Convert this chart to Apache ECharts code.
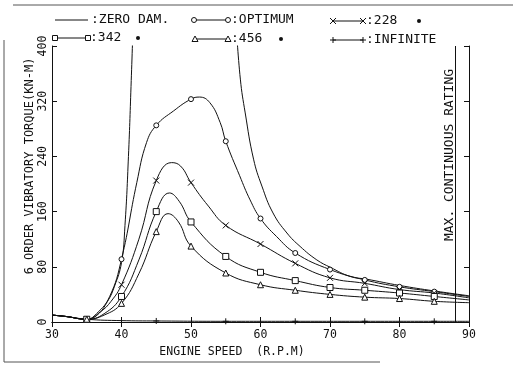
<!DOCTYPE html>
<html>
<head>
<meta charset="utf-8">
<script src="https://cdn.jsdelivr.net/npm/echarts@6/dist/echarts.min.js"></script>
<style>
html,body{margin:0;padding:0;background:#fff;}
#chart{width:513px;height:370px;}
</style>
</head>
<body>
<div id="chart"></div>
<script>
// ---------- data ----------
var xTicks = [30, 40, 50, 60, 70, 80, 90];
var yTicks = [0, 80, 160, 240, 320, 400];
var mcrRpm = 88;

var zeroLeftRpm  = [30, 32, 35, 36.5, 38, 39, 40, 40.5, 41, 41.4, 41.7];
var zeroLeftVal  = [10, 8, 4, 10, 30, 52, 86, 140, 240, 350, 440];
var zeroRightRpm = [56.5, 57.1, 57.8, 59, 60.2, 61.8, 63.8, 65.7, 68.1, 70.1, 72.9, 75.3, 80, 85, 90];
var zeroRightVal = [430, 352, 303, 236, 197, 158, 129, 109.5, 90, 79, 66, 62, 53, 45, 38];

var optRpm = [30, 32, 35, 36.4, 38.3, 40, 42.2, 43.6, 45, 47.5, 50, 51.2, 52.7, 54.2, 55, 57, 58.5, 60, 62.3, 65, 70, 75, 80, 85, 90];
var optVal = [10, 8, 4, 12, 37, 91, 202, 260, 285, 306, 323, 326, 318, 289, 262, 212, 177, 150, 124, 100, 76, 61, 51, 44, 37];

var d228Rpm = [30, 32, 35, 37, 38.5, 40, 42.5, 45, 47.2, 48.5, 50, 52.5, 55, 60, 65, 70, 75, 80, 85, 90];
var d228Val = [10, 8, 4, 15, 30, 54, 120, 205, 231, 226, 202, 168, 140, 113, 85, 64, 56, 47, 42, 35];

var d342Rpm = [30, 32, 35, 37.5, 40, 42.5, 45, 46.9, 48.3, 50, 55, 60, 65, 70, 75, 80, 85, 90];
var d342Val = [10, 8, 4, 12, 37, 90, 160, 187, 175, 145, 95, 72, 60, 50, 46, 42, 37, 32];

var d456Rpm = [30, 32, 35, 37.5, 40, 42.5, 45, 46.7, 48.2, 50, 55, 60, 65, 70, 75, 80, 85, 90];
var d456Val = [10, 8, 4, 10, 27, 70, 131, 157, 145, 110, 71, 54, 46, 40, 36, 34, 30, 28];

var infRpm = [30, 32, 35, 40, 45, 55, 65, 75, 85, 90];
var infVal = [10, 8, 4, 2, 1.5, 1, 1, 1, 1, 1];

var markerRpm = [35, 40, 45, 50, 55, 60, 65, 70, 75, 80, 85];
var infMarkerRpm = [45, 55, 65, 75, 85];

var legendLabels = [':ZERO DAM.', ':OPTIMUM', ':228', ':342', ':456', ':INFINITE'];
var xName = 'ENGINE SPEED  (R.P.M)';
var yName = '6 ORDER VIBRATORY TORQUE(KN-M)';
var mcrLabel = 'MAX. CONTINUOUS RATING';

// ---------- styles ----------
var FONT = 'DejaVu Sans Mono';
var INK = '#111';
var SYM = {
  circle: 'circle',
  x: 'path://M0,0L10,10M10,0L0,10',
  rect: 'rect',
  tri: 'triangle',
  plus: 'path://M5,0L5,10M0,5L10,5'
};

function build(rpm, val, marks) {
  var out = [];
  for (var i = 0; i < rpm.length; i++) {
    var item = { value: [rpm[i], val[i]] };
    if (!marks || marks.indexOf(rpm[i]) < 0) item.symbol = 'none';
    out.push(item);
  }
  return out;
}

function lineSeries(name, data, sym, extra) {
  var s = {
    name: name,
    type: 'line',
    data: data,
    smooth: 0.45,
    clip: true,
    symbol: sym || 'none',
    symbolSize: sym === 'circle' ? 5 : 6,
    showSymbol: true,
    showAllSymbol: true,
    lineStyle: { color: INK, width: 1 },
    itemStyle: { color: '#fff', borderColor: INK, borderWidth: 1 },
    emphasis: { disabled: true },
    z: 3
  };
  if (extra) for (var k in extra) s[k] = extra[k];
  return s;
}

var series = [
  lineSeries('zeroL', build(zeroLeftRpm, zeroLeftVal, null), 'none', {
    markLine: {
      silent: true, symbol: ['none', 'none'], label: { show: false },
      lineStyle: { color: INK, width: 1, type: 'solid' },
      data: [{ xAxis: mcrRpm }]
    }
  }),
  lineSeries('zeroR', build(zeroRightRpm, zeroRightVal, null), 'none'),
  lineSeries('opt', build(optRpm, optVal, markerRpm), SYM.circle),
  lineSeries('228', build(d228Rpm, d228Val, markerRpm), SYM.x),
  lineSeries('342', build(d342Rpm, d342Val, markerRpm), SYM.rect),
  lineSeries('456', build(d456Rpm, d456Val, markerRpm), SYM.tri),
  lineSeries('inf', build(infRpm, infVal, infMarkerRpm), SYM.plus)
];

// ---------- legend graphics ----------
function symShape(kind, cx, cy) {
  var st = { stroke: INK, lineWidth: 1, fill: '#fff' };
  if (kind === 'circle') return { type: 'circle', shape: { cx: cx, cy: cy, r: 2.5 }, style: st };
  if (kind === 'rect') return { type: 'rect', shape: { x: cx - 2.5, y: cy - 2.5, width: 5, height: 5 }, style: st };
  if (kind === 'tri') return { type: 'polygon', shape: { points: [[cx, cy - 3], [cx + 3, cy + 2.5], [cx - 3, cy + 2.5]] }, style: st };
  if (kind === 'x') return { type: 'group', children: [
    { type: 'line', shape: { x1: cx - 3, y1: cy - 3, x2: cx + 3, y2: cy + 3 }, style: { stroke: INK, lineWidth: 1 } },
    { type: 'line', shape: { x1: cx + 3, y1: cy - 3, x2: cx - 3, y2: cy + 3 }, style: { stroke: INK, lineWidth: 1 } }] };
  if (kind === 'plus') return { type: 'group', children: [
    { type: 'line', shape: { x1: cx, y1: cy - 3, x2: cx, y2: cy + 3 }, style: { stroke: INK, lineWidth: 1 } },
    { type: 'line', shape: { x1: cx - 3, y1: cy, x2: cx + 3, y2: cy }, style: { stroke: INK, lineWidth: 1 } }] };
  return null;
}

var legendLayout = [
  { x1: 55, x2: 88, y: 20, kind: null, tx: 91, dot: null },
  { x1: 194, x2: 228, y: 20, kind: 'circle', tx: 231, dot: null },
  { x1: 333, x2: 363, y: 21, kind: 'x', tx: 366, dot: 419 },
  { x1: 55, x2: 88, y: 38, kind: 'rect', tx: 90, dot: 138 },
  { x1: 195, x2: 228, y: 39, kind: 'tri', tx: 231, dot: 281 },
  { x1: 333, x2: 363, y: 40, kind: 'plus', tx: 366, dot: null }
];

var graphics = [];
legendLayout.forEach(function (L, i) {
  graphics.push({ type: 'line', shape: { x1: L.x1, y1: L.y, x2: L.x2, y2: L.y }, style: { stroke: INK, lineWidth: 1 } });
  if (L.kind) {
    graphics.push(symShape(L.kind, L.x1, L.y));
    graphics.push(symShape(L.kind, L.x2, L.y));
  }
  graphics.push({ type: 'text', x: L.tx, y: L.y, style: { text: legendLabels[i], font: '13px "' + FONT + '"', fill: INK, textVerticalAlign: 'middle', verticalAlign: 'middle' } });
  if (L.dot) graphics.push({ type: 'circle', shape: { cx: L.dot, cy: L.y, r: 2 }, style: { fill: INK } });
});

graphics.push({ type: 'text', x: 232, y: 352, style: { text: xName, font: '11.5px "' + FONT + '"', fill: INK, align: 'center', verticalAlign: 'middle', textAlign: 'center', textVerticalAlign: 'middle' } });
graphics.push({ type: 'text', x: 30, y: 166, rotation: Math.PI / 2, style: { text: yName, font: '12px "' + FONT + '"', fill: INK, align: 'center', verticalAlign: 'middle', textAlign: 'center', textVerticalAlign: 'middle' } });
graphics.push({ type: 'text', x: 450, y: 155, rotation: Math.PI / 2, style: { text: mcrLabel, font: '13px "' + FONT + '"', fill: INK, align: 'center', verticalAlign: 'middle', textAlign: 'center', textVerticalAlign: 'middle' } });

// scan frame
graphics.push({ type: 'polyline', shape: { points: [[13, 5], [513, 5]] }, style: { stroke: '#555', lineWidth: 1 } });
graphics.push({ type: 'polyline', shape: { points: [[4, 40], [4, 362], [380, 362]] }, style: { stroke: '#555', lineWidth: 1 } });

var axisCommon = {
  type: 'value',
  axisLine: { show: true, lineStyle: { color: INK, width: 1 } },
  axisTick: { show: true, inside: true, length: 5, lineStyle: { color: INK } },
  splitLine: { show: false }
};

var option = {
  animation: false,
  backgroundColor: '#fff',
  grid: { left: 52, right: 44, top: 46, bottom: 48 },
  xAxis: [
    Object.assign({}, axisCommon, {
      min: xTicks[0], max: xTicks[xTicks.length - 1], interval: 10, position: 'bottom',
      axisLabel: { color: INK, fontFamily: FONT, fontSize: 11.5, margin: 7 }
    }),
    Object.assign({}, axisCommon, {
      min: xTicks[0], max: xTicks[xTicks.length - 1], interval: 10, position: 'top',
      axisLabel: { show: false }
    })
  ],
  yAxis: [
    Object.assign({}, axisCommon, {
      min: yTicks[0], max: yTicks[yTicks.length - 1], interval: 80, position: 'left',
      axisLabel: { color: INK, fontFamily: FONT, fontSize: 11.5, rotate: 90, margin: 3 }
    }),
    Object.assign({}, axisCommon, {
      min: yTicks[0], max: yTicks[yTicks.length - 1], interval: 80, position: 'right',
      axisLabel: { show: false }
    })
  ],
  series: series,
  graphic: graphics
};

var chart = echarts.init(document.getElementById('chart'), null, { renderer: 'canvas' });
chart.setOption(option);
</script>
</body>
</html>
